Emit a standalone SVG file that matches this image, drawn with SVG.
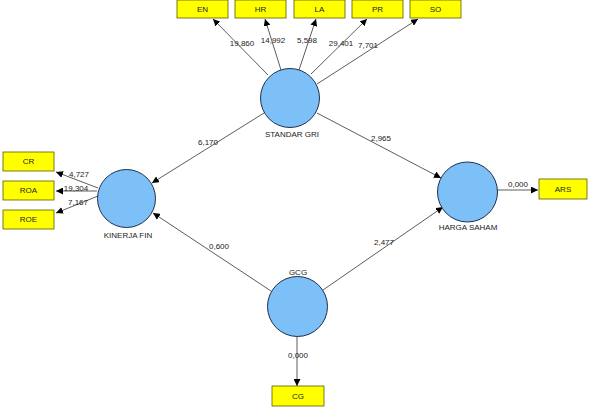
<svg xmlns="http://www.w3.org/2000/svg" width="594" height="412" viewBox="0 0 594 412">
<defs>
<marker id="ah" viewBox="0 0 10 10" refX="10" refY="5" markerWidth="7" markerHeight="7" orient="auto" markerUnits="userSpaceOnUse">
<path d="M0,0 L10,5 L0,10 z" fill="#000"/>
</marker>
</defs>
<style>
.lv{fill:#7dbff7;stroke:#1f2f4f;stroke-width:1}
.mv{fill:#ffff00;stroke:#5a5a00;stroke-width:0.8}
.t{font-family:"Liberation Sans",Arial,sans-serif;font-size:8px;fill:#222;text-anchor:middle}
.c{stroke:#333;stroke-width:0.8;fill:none;marker-end:url(#ah)}
</style>
<rect width="594" height="412" fill="#fff"/>
<g id="connectors">
<line class="c" x1="268" y1="75" x2="213" y2="19"/>
<line class="c" x1="281" y1="70" x2="265" y2="19"/>
<line class="c" x1="299" y1="70" x2="316" y2="19"/>
<line class="c" x1="311" y1="74" x2="367" y2="19"/>
<line class="c" x1="317" y1="84" x2="418" y2="19"/>
<line class="c" x1="264" y1="113" x2="152" y2="183"/>
<line class="c" x1="317" y1="113" x2="441" y2="178"/>
<line class="c" x1="271" y1="291" x2="153" y2="213"/>
<line class="c" x1="323" y1="290" x2="443" y2="207"/>
<line class="c" x1="98" y1="188" x2="56" y2="172"/>
<line class="c" x1="97" y1="191" x2="56" y2="191"/>
<line class="c" x1="98" y1="196" x2="56" y2="213"/>
<line class="c" x1="497" y1="190" x2="538" y2="190"/>
<line class="c" x1="297" y1="336" x2="297" y2="386"/>
<text class="t" x="242" y="46">19,860</text>
<text class="t" x="273" y="43">14,992</text>
<text class="t" x="307" y="43">5,598</text>
<text class="t" x="341" y="46">29,401</text>
<text class="t" x="368" y="48">7,701</text>
<text class="t" x="208" y="145">6,170</text>
<text class="t" x="381" y="141">2,965</text>
<text class="t" x="219" y="249">0,600</text>
<text class="t" x="384" y="245">2,477</text>
<text class="t" x="79" y="177">4,727</text>
<text class="t" x="76" y="191">19,304</text>
<text class="t" x="78" y="205">7,167</text>
<text class="t" x="518" y="187">0,000</text>
<text class="t" x="298" y="358">0,000</text>
</g>
<g id="node-EN"><rect class="mv" x="177" y="0" width="51" height="18"/><text class="t" x="202.5" y="12">EN</text></g>
<g id="node-HR"><rect class="mv" x="235" y="0" width="51" height="18"/><text class="t" x="260.5" y="12">HR</text></g>
<g id="node-LA"><rect class="mv" x="294" y="0" width="51" height="18"/><text class="t" x="319.5" y="12">LA</text></g>
<g id="node-PR"><rect class="mv" x="352" y="0" width="51" height="18"/><text class="t" x="377.5" y="12">PR</text></g>
<g id="node-SO"><rect class="mv" x="410" y="0" width="51" height="18"/><text class="t" x="435.5" y="12">SO</text></g>
<g id="node-CR"><rect class="mv" x="3" y="152" width="51" height="19"/><text class="t" x="28.5" y="164">CR</text></g>
<g id="node-ROA"><rect class="mv" x="3" y="181" width="51" height="19"/><text class="t" x="28.5" y="193">ROA</text></g>
<g id="node-ROE"><rect class="mv" x="3" y="210" width="51" height="19"/><text class="t" x="28.5" y="222">ROE</text></g>
<g id="node-ARS"><rect class="mv" x="539" y="179" width="48" height="20"/><text class="t" x="563" y="192">ARS</text></g>
<g id="node-CG"><rect class="mv" x="272" y="386" width="52" height="20"/><text class="t" x="298" y="399">CG</text></g>
<g id="node-STANDAR-GRI"><circle class="lv" cx="290" cy="98" r="29.5"/><text class="t" x="292" y="137">STANDAR GRI</text></g>
<g id="node-KINERJA-FIN"><circle class="lv" cx="126.5" cy="198.5" r="29"/><text class="t" x="128" y="238">KINERJA FIN</text></g>
<g id="node-HARGA-SAHAM"><circle class="lv" cx="467.5" cy="192" r="30"/><text class="t" x="468" y="230">HARGA SAHAM</text></g>
<g id="node-GCG"><circle class="lv" cx="297.5" cy="306.5" r="30"/><text class="t" x="298" y="275">GCG</text></g>
</svg>
